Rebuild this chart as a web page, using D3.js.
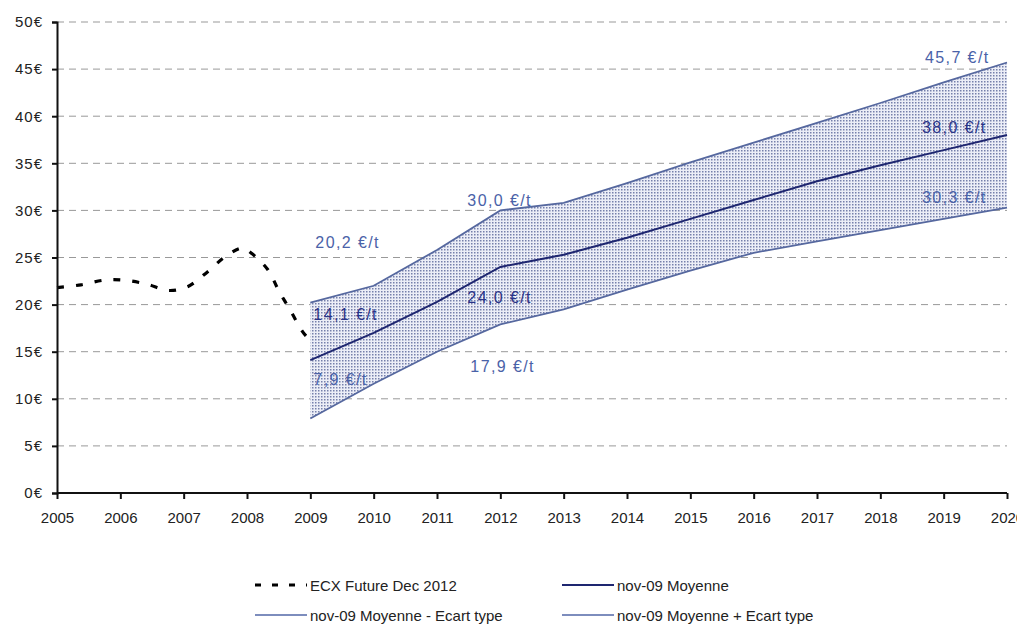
<!DOCTYPE html>
<html>
<head>
<meta charset="utf-8">
<script src="https://cdn.jsdelivr.net/npm/d3@7"></script>
<style>
  body { margin: 0; background: #fff; }
  text { font-family: "Liberation Sans", Arial, sans-serif; }
</style>
</head>
<body>
<svg id="chart"></svg>
<script>
// ECX future, historical (year, €/t)
var ecxYears = [2005.0, 2005.38, 2005.75, 2006.05, 2006.4, 2006.76, 2007.06, 2007.38, 2007.66, 2007.93, 2008.06, 2008.33, 2008.5, 2008.7, 2008.88, 2009.0];
var ecxValues = [21.8, 22.1, 22.6, 22.6, 22.2, 21.5, 21.9, 23.5, 25.1, 26.0, 25.5, 23.7, 21.5, 19.2, 17.1, 16.2];

// nov-09 forecast
var forecastYears = [2009, 2010, 2011, 2012, 2013, 2014, 2015, 2016, 2017, 2018, 2019, 2020];
var moyenne = [14.1, 17.0, 20.3, 24.0, 25.3, 27.1, 29.1, 31.1, 33.1, 34.8, 36.4, 38.0];
var moyenneMoins = [7.9, 11.6, 15.0, 17.9, 19.5, 21.6, 23.6, 25.5, 26.7, 27.9, 29.1, 30.3];
var moyennePlus = [20.2, 22.0, 25.8, 30.0, 30.8, 32.9, 35.1, 37.2, 39.3, 41.4, 43.6, 45.7];

var xTicks = d3.range(2005, 2021);
var yTicks = [0, 5, 10, 15, 20, 25, 30, 35, 40, 45, 50];

// annotated values
var labelYears = [2009, 2009, 2009, 2012, 2012, 2012, 2020, 2020, 2020];
var labelSeries = ["plus", "moy", "moins", "plus", "moy", "moins", "plus", "moy", "moins"];
var labelTexts = ["20,2 €/t", "14,1 €/t", "7,9 €/t", "30,0 €/t", "24,0 €/t", "17,9 €/t", "45,7 €/t", "38,0 €/t", "30,3 €/t"];

var legendNames = ["ECX Future Dec 2012", "nov-09 Moyenne", "nov-09 Moyenne - Ecart type", "nov-09 Moyenne + Ecart type"];

var W = 1017, H = 633;
var colNavy = "#1e2670", colBlue = "#56689f", colLabel = "#4a62a8", colLabelDark = "#2a3488";

var svg = d3.select("#chart").attr("width", W).attr("height", H);
svg.append("rect").attr("width", W).attr("height", H).attr("fill", "#fff");

var x = d3.scaleLinear().domain([2005, 2020]).range([57, 1007]);
var y = d3.scaleLinear().domain([0, 50]).range([493, 22]);

var defs = svg.append("defs");
var pat = defs.append("pattern").attr("id", "dots")
    .attr("patternUnits", "userSpaceOnUse").attr("width", 3).attr("height", 3);
pat.append("rect").attr("width", 3).attr("height", 3).attr("fill", "#eceef7");
pat.append("rect").attr("width", 1.5).attr("height", 1.5).attr("fill", "#7680ab");

// grid
svg.append("g").selectAll("line")
    .data(yTicks.filter(function(d) { return d > 0; }))
    .enter().append("line")
    .attr("x1", x(2005)).attr("x2", x(2020))
    .attr("y1", function(d) { return y(d); }).attr("y2", function(d) { return y(d); })
    .attr("stroke", "#999").attr("stroke-width", 1)
    .attr("stroke-dasharray", "7,5");

// band
var band = forecastYears.map(function(d, i) {
    return { year: d, lo: moyenneMoins[i], hi: moyennePlus[i], mid: moyenne[i] };
});
var area = d3.area()
    .x(function(d) { return x(d.year); })
    .y0(function(d) { return y(d.lo); })
    .y1(function(d) { return y(d.hi); });
svg.append("path").datum(band).attr("d", area).attr("fill", "url(#dots)");

function lineOf(key) {
    return d3.line().x(function(d) { return x(d.year); }).y(function(d) { return y(d[key]); });
}
svg.append("path").datum(band).attr("d", lineOf("hi"))
    .attr("fill", "none").attr("stroke", colBlue).attr("stroke-width", 1.8);
svg.append("path").datum(band).attr("d", lineOf("lo"))
    .attr("fill", "none").attr("stroke", colBlue).attr("stroke-width", 1.8);
svg.append("path").datum(band).attr("d", lineOf("mid"))
    .attr("fill", "none").attr("stroke", colNavy).attr("stroke-width", 2);

// ECX
var ecx = ecxYears.map(function(d, i) { return { year: d, v: ecxValues[i] }; });
svg.append("path").datum(ecx)
    .attr("d", d3.line().curve(d3.curveCatmullRom)
        .x(function(d) { return x(d.year); }).y(function(d) { return y(d.v); }))
    .attr("fill", "none").attr("stroke", "#000").attr("stroke-width", 3.2)
    .attr("stroke-dasharray", "7,12");

// axes
var yAxis = svg.append("g").attr("transform", "translate(" + x(2005) + ",0)")
    .call(d3.axisLeft(y).tickValues(yTicks).tickSize(5).tickPadding(9)
        .tickFormat(function(d) { return d + "€"; }));
var xAxis = svg.append("g").attr("transform", "translate(0," + y(0) + ")")
    .call(d3.axisBottom(x).tickValues(xTicks).tickSize(6).tickPadding(13)
        .tickFormat(d3.format("d")));
[yAxis, xAxis].forEach(function(g) {
    g.select(".domain").attr("stroke", "#111").attr("stroke-width", 2);
    g.selectAll(".tick line").attr("stroke", "#111").attr("stroke-width", 2);
    g.selectAll(".tick text").attr("fill", "#222").style("font-size", "15px")
        .style("font-family", "'Liberation Sans', Arial, sans-serif");
});
yAxis.selectAll(".tick text").attr("letter-spacing", 1);
xAxis.select(".domain").attr("d", "M" + x(2005) + ",0H" + x(2020));

// value labels
var labelDx = [5, 3, 3, -33, -33, -30, -82, -85, -85];
var labelDy = [-55, -40, -34, -4, 36, 48, 0, -2, -5];
var seriesOf = { plus: moyennePlus, moy: moyenne, moins: moyenneMoins };
svg.append("g").selectAll("text")
    .data(labelTexts).enter().append("text")
    .attr("x", function(d, i) { return x(labelYears[i]) + labelDx[i]; })
    .attr("y", function(d, i) {
        var v = seriesOf[labelSeries[i]][forecastYears.indexOf(labelYears[i])];
        return y(v) + labelDy[i];
    })
    .attr("fill", function(d, i) { return labelSeries[i] === "moy" ? colLabelDark : colLabel; })
    .style("font-size", "16px").attr("letter-spacing", 1.4)
    .text(function(d) { return d; });

// legend
var legX = [255, 562, 255, 562];
var legY = [585, 585, 615, 615];
var legStroke = ["#000", colNavy, "#7d8dbd", "#7d8dbd"];
var legWidth = [3.2, 2, 2, 2];
var leg = svg.append("g").selectAll("g").data(legendNames).enter().append("g")
    .attr("transform", function(d, i) { return "translate(" + legX[i] + "," + legY[i] + ")"; });
leg.append("line").attr("x1", 0).attr("x2", 52).attr("y1", 0).attr("y2", 0)
    .attr("stroke", function(d, i) { return legStroke[i]; })
    .attr("stroke-width", function(d, i) { return legWidth[i]; })
    .attr("stroke-dasharray", function(d, i) { return i === 0 ? "6,11" : null; });
leg.append("text").attr("x", 55).attr("y", 6)
    .attr("fill", "#222").style("font-size", "15px")
    .text(function(d) { return d; });
</script>
</body>
</html>
